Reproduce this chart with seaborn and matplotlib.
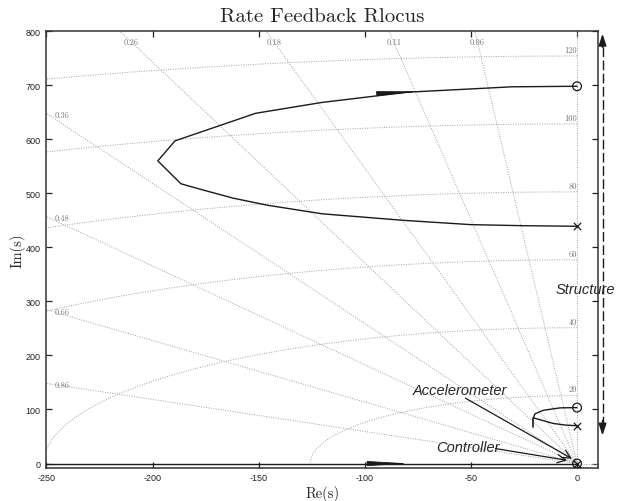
#!/usr/bin/env python3
# -*- coding: utf-8 -*-
"""Root locus of the rate feedback loop, drawn on an s-plane grid."""

import matplotlib.pyplot as plt
import numpy as np
import seaborn as sns

# Structure branch (pole near 440 rad/s to zero near 698 rad/s)
STRUCT_RE = [0, -25, -50, -82, -120, -146, -162, -178, -186.6, -197.5,
             -189.4, -151.4, -120.3, -80, -30.6, 0]
STRUCT_IM = [439, 440, 442, 450, 462, 478, 491, 508, 517.6, 560,
             597, 648, 668, 687, 697, 698]
# Accelerometer branch
ACCEL_RE = [0, -5, -11, -20.6, -19.8, -15.9, -8, 0]
ACCEL_IM = [70, 71, 74, 84.5, 92, 98.5, 103, 103.5]
# Controller branch along the real axis
CTRL_RE = [-250, 0]
CTRL_IM = [0, 0]

POLES_RE = [0, 0, 0]
POLES_IM = [439, 70, 0]
ZEROS_RE = [0, 0, 0]
ZEROS_IM = [698, 103.5, 0]

# sgrid values
ZETAS = [0.06, 0.11, 0.18, 0.26, 0.36, 0.48, 0.66, 0.86]
FREQ_HZ = [20, 40, 60, 80, 100, 120]

XTICKS = [-250, -200, -150, -100, -50, 0]
YTICKS = [0, 100, 200, 300, 400, 500, 600, 700, 800]
XLIM = (-250, 10)
YLIM = (-8, 800)

sns.set_theme(style="ticks")
plt.rcParams["axes.unicode_minus"] = False
plt.rcParams["font.family"] = ["Liberation Sans", "DejaVu Sans"]

GRID = dict(color="#a0a0a0", lw=0.7, ls=(0, (1, 1.5)), zorder=1)
SERIF = "cmr10"


def draw_sgrid(ax):
    """Damping lines and natural frequency circles (labels in Hz)."""
    # damping ratio lines from the origin
    for z in ZETAS:
        slope = np.sqrt(1 - z**2) / z
        ax.plot([0, -2000], [0, 2000 * slope], **GRID)
        y_left = -XLIM[0] * slope
        if y_left < YLIM[1]:
            ax.text(-246, y_left - 3, f"{z:.2f}", family=SERIF, size=6,
                    color="#777777", ha="left", va="center")
        else:
            ax.text(-780 / slope, 780, f"{z:.2f}", family=SERIF, size=6,
                    color="#777777", ha="center", va="center")
    ax.plot([0, 0], [0, YLIM[1]], **GRID)
    ax.axhline(0, **GRID)
    # natural frequency arcs
    theta = np.linspace(np.pi / 2, np.pi, 200)
    for f in FREQ_HZ:
        r = 2 * np.pi * f
        ax.plot(r * np.cos(theta), r * np.sin(theta), **GRID)
        ax.text(0, r + 4, str(f), family=SERIF, size=6, color="#777777",
                ha="right", va="bottom")


def arrowhead(ax, base, tip):
    """Long thin arrowhead on a locus branch."""
    ax.annotate("", xy=tip, xytext=base,
                arrowprops=dict(arrowstyle="-|>,head_length=2.6,head_width=0.15",
                                color="k", lw=0.6, shrinkA=0, shrinkB=0,
                                mutation_scale=10), zorder=4)


def label_arrow(ax, text, xytext, start, end):
    ax.text(*xytext, text, style="italic", size=10.5, ha="center",
            va="center", zorder=5)
    ax.annotate("", xy=end, xytext=start,
                arrowprops=dict(arrowstyle="->,head_length=0.5,head_width=0.25",
                                color="k", lw=0.9, shrinkA=0, shrinkB=0),
                zorder=5)


def main():
    fig = plt.figure(figsize=(6.44, 5.02), dpi=100)
    ax = fig.add_axes([0.072, 0.066, 0.857, 0.87])

    draw_sgrid(ax)

    # Locus branches
    for re, im in ((STRUCT_RE, STRUCT_IM), (ACCEL_RE, ACCEL_IM),
                   (CTRL_RE, CTRL_IM)):
        sns.lineplot(x=re, y=im, sort=False, estimator=None, color="k",
                     lw=1.0, ax=ax, zorder=3)
    ax.plot([-20.6, -20.6], [68, 84.5], color="k", lw=1.2, zorder=3)
    arrowhead(ax, (-91, 685), (-74, 688.5))
    arrowhead(ax, (-95, 0), (-78.5, 0))

    # Poles and zeros
    sns.scatterplot(x=POLES_RE, y=POLES_IM, marker="x", color="k", s=28,
                    linewidth=0.9, ax=ax, zorder=5)
    sns.scatterplot(x=ZEROS_RE, y=ZEROS_IM, marker="o", facecolor="none",
                    edgecolor="k", s=40, linewidth=0.9, ax=ax, zorder=5)

    # Annotations
    ax.text(3.8, 323, "Structure", style="italic", size=10.5, ha="center",
            va="center", zorder=6, clip_on=False)
    ax.plot([12, 12], [70, 780], color="k", lw=1.0, dashes=(7, 2.5),
            clip_on=False)
    for a, b in (((12, 770), (12, 795)), ((12, 80), (12, 52))):
        ax.annotate("", xy=b, xytext=a, annotation_clip=False,
                    arrowprops=dict(arrowstyle="-|>,head_length=0.6,head_width=0.2",
                                    color="k", lw=1.0, shrinkA=0, shrinkB=0))
    label_arrow(ax, "Accelerometer", (-55, 135.5), (-52.6, 121), (-2.4, 9))
    label_arrow(ax, "Controller", (-51.5, 30.7), (-38.4, 27.7), (-4.7, 6))

    # Aesthetics
    ax.set_xlim(*XLIM)
    ax.set_ylim(*YLIM)
    ax.set_xticks(XTICKS)
    ax.set_yticks(YTICKS)
    ax.tick_params(direction="in", top=True, right=True, length=4,
                   width=0.9, labelsize=6.5, colors="#222222", pad=4)
    for spine in ax.spines.values():
        spine.set_color("#333333")
        spine.set_linewidth(1.1)
    ax.set_title("Rate Feedback Rlocus", family=SERIF, size=15, pad=7)
    ax.set_xlabel("Re(s)", family=SERIF, size=10.5, labelpad=2)
    ax.set_ylabel("Im(s)", family=SERIF, size=10.5)
    ax.yaxis.set_label_coords(-0.037, 0.5)

    fig.savefig("out.png", dpi=100)
    plt.close(fig)


if __name__ == "__main__":
    main()
